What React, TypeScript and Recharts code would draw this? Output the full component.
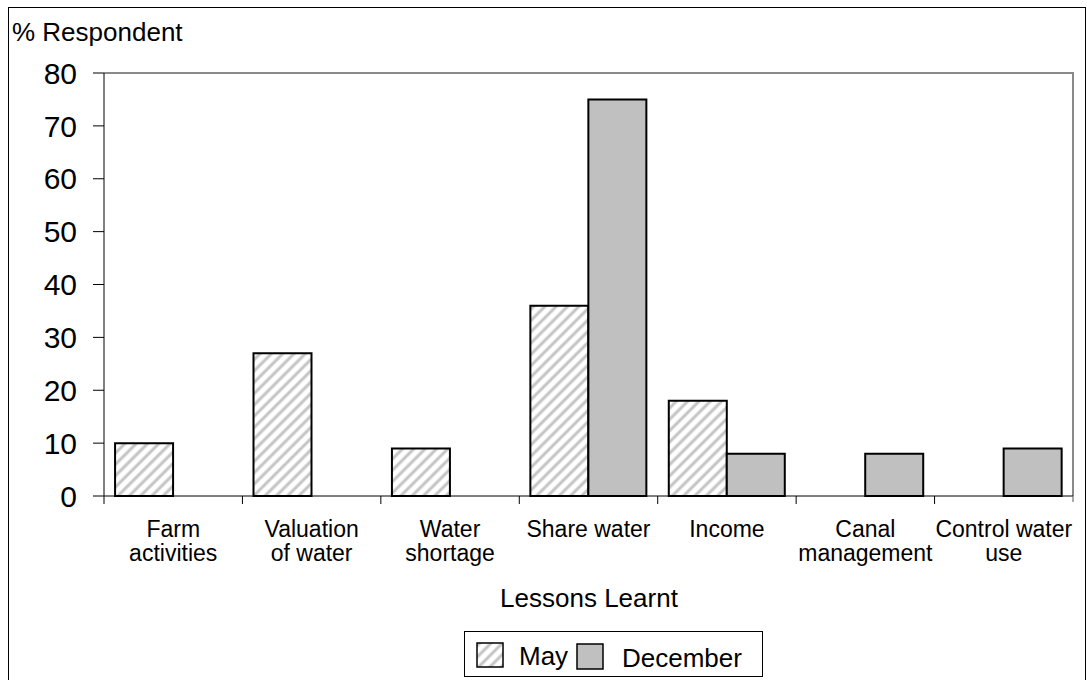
import React from 'react';
import { BarChart, Bar, XAxis, YAxis } from 'recharts';

const categories = [
  'Farm activities',
  'Valuation of water',
  'Water shortage',
  'Share water',
  'Income',
  'Canal management',
  'Control water use',
];
const categoryLines: string[][] = [
  ['Farm', 'activities'],
  ['Valuation', 'of water'],
  ['Water', 'shortage'],
  ['Share water'],
  ['Income'],
  ['Canal', 'management'],
  ['Control water', 'use'],
];
const mayValues = [10, 27, 9, 36, 18, 0, 0];
const decemberValues = [0, 0, 0, 75, 8, 8, 9];
const yTicks = [0, 10, 20, 30, 40, 50, 60, 70, 80];

const data = categories.map((name, i) => ({
  name,
  May: mayValues[i],
  December: decemberValues[i],
}));

const FONT = '"Liberation Sans", Arial, Helvetica, sans-serif';

const W = 1087;
const H = 680;
const MARGIN = { top: 73, right: 14, bottom: 154, left: 44 };
const Y_AXIS_W = 60;
const X_AXIS_H = 30;
const PLOT_L = MARGIN.left + Y_AXIS_W;
const PLOT_R = W - MARGIN.right;
const PLOT_T = MARGIN.top;
const PLOT_B = H - MARGIN.bottom - X_AXIS_H;

const CategoryTick = (props: any) => {
  const { x, y, payload, index } = props;
  const half = payload && payload.offset ? payload.offset : (PLOT_R - PLOT_L) / 14;
  const lines = categoryLines[index] || [String(payload.value)];
  const lh = 24;
  const isLast = index === categories.length - 1;
  return (
    <g>
      <line x1={x - half} x2={x - half} y1={y} y2={y + 8} stroke="#000" strokeWidth={1} />
      {isLast && <line x1={x + half} x2={x + half} y1={y} y2={y + 6} stroke="#555" strokeWidth={1} />}
      <text x={x} y={y + 41} textAnchor="middle" fontFamily={FONT} fontSize={23} fill="#000">
        {lines.map((l, k) => (
          <tspan key={k} x={x} dy={k === 0 ? 0 : lh}>
            {l}
          </tspan>
        ))}
      </text>
    </g>
  );
};

export default function App() {
  return (
    <div
      style={{
        position: 'absolute',
        left: 0,
        top: 0,
        width: W,
        height: H,
        overflow: 'hidden',
        background: '#fff',
        fontFamily: FONT,
      }}
    >
      <div
        style={{
          position: 'absolute',
          left: 8,
          top: 7,
          width: 1076,
          height: 700,
          border: '1px solid #000',
        }}
      />
      <svg style={{ position: 'absolute', left: 0, top: 0 }} width={W} height={H}>
        <polyline
          points={`${PLOT_L},${PLOT_T} ${PLOT_R},${PLOT_T} ${PLOT_R},${PLOT_B}`}
          fill="none"
          stroke="#8a8a8a"
          strokeWidth={2}
        />
      </svg>
      <div style={{ position: 'absolute', left: 0, top: 0 }}>
        <BarChart
          width={W}
          height={H}
          data={data}
          margin={MARGIN}
          barCategoryGap="8%"
          barGap={0}
        >
          <defs>
            <pattern id="hatch" patternUnits="userSpaceOnUse" width="8" height="8" patternTransform="rotate(45)">
              <rect width="8" height="8" fill="#fff" />
              <line x1="2" y1="0" x2="2" y2="8" stroke="#c4c4c4" strokeWidth="3" />
            </pattern>
          </defs>
          <XAxis
            dataKey="name"
            height={X_AXIS_H}
            interval={0}
            tickLine={false}
            tickSize={0}
            tickMargin={0}
            axisLine={{ stroke: '#000', strokeWidth: 1 }}
            tick={<CategoryTick />}
          />
          <YAxis
            width={Y_AXIS_W}
            domain={[0, 80]}
            ticks={yTicks}
            interval={0}
            tickSize={11}
            tickMargin={16}
            tickLine={{ stroke: '#000' }}
            axisLine={{ stroke: '#000', strokeWidth: 1 }}
            tick={{ fontFamily: FONT, fontSize: 30, fill: '#000' }}
          />
          <Bar dataKey="May" fill="url(#hatch)" stroke="#000" strokeWidth={2} isAnimationActive={false} />
          <Bar dataKey="December" fill="#c0c0c0" stroke="#000" strokeWidth={2} isAnimationActive={false} />
        </BarChart>
      </div>
      <div
        style={{
          position: 'absolute',
          left: 12,
          top: 17,
          fontSize: 26,
          lineHeight: '30px',
          color: '#000',
          whiteSpace: 'nowrap',
        }}
      >
        % Respondent
      </div>
      <div
        style={{
          position: 'absolute',
          left: 389,
          width: 400,
          top: 583,
          textAlign: 'center',
          fontSize: 26,
          lineHeight: '30px',
          color: '#000',
        }}
      >
        Lessons Learnt
      </div>
      <svg style={{ position: 'absolute', left: 0, top: 0 }} width={W} height={H}>
        <defs>
          <pattern id="hatchLegend" patternUnits="userSpaceOnUse" width="8" height="8" patternTransform="rotate(45)">
            <rect width="8" height="8" fill="#fff" />
            <line x1="2" y1="0" x2="2" y2="8" stroke="#c4c4c4" strokeWidth="3" />
          </pattern>
        </defs>
        <rect x={464.5} y={631.5} width={298} height={45} fill="#fff" stroke="#000" strokeWidth={1} />
        <rect x={477} y={643} width={26} height={24} fill="url(#hatchLegend)" stroke="#000" strokeWidth={1.5} />
        <text x={519} y={665} fontFamily={FONT} fontSize={26} fill="#000">May</text>
        <rect x={577} y={644} width={26} height={25} fill="#c0c0c0" stroke="#000" strokeWidth={1.5} />
        <text x={622} y={667} fontFamily={FONT} fontSize={26} fill="#000">December</text>
      </svg>
    </div>
  );
}
